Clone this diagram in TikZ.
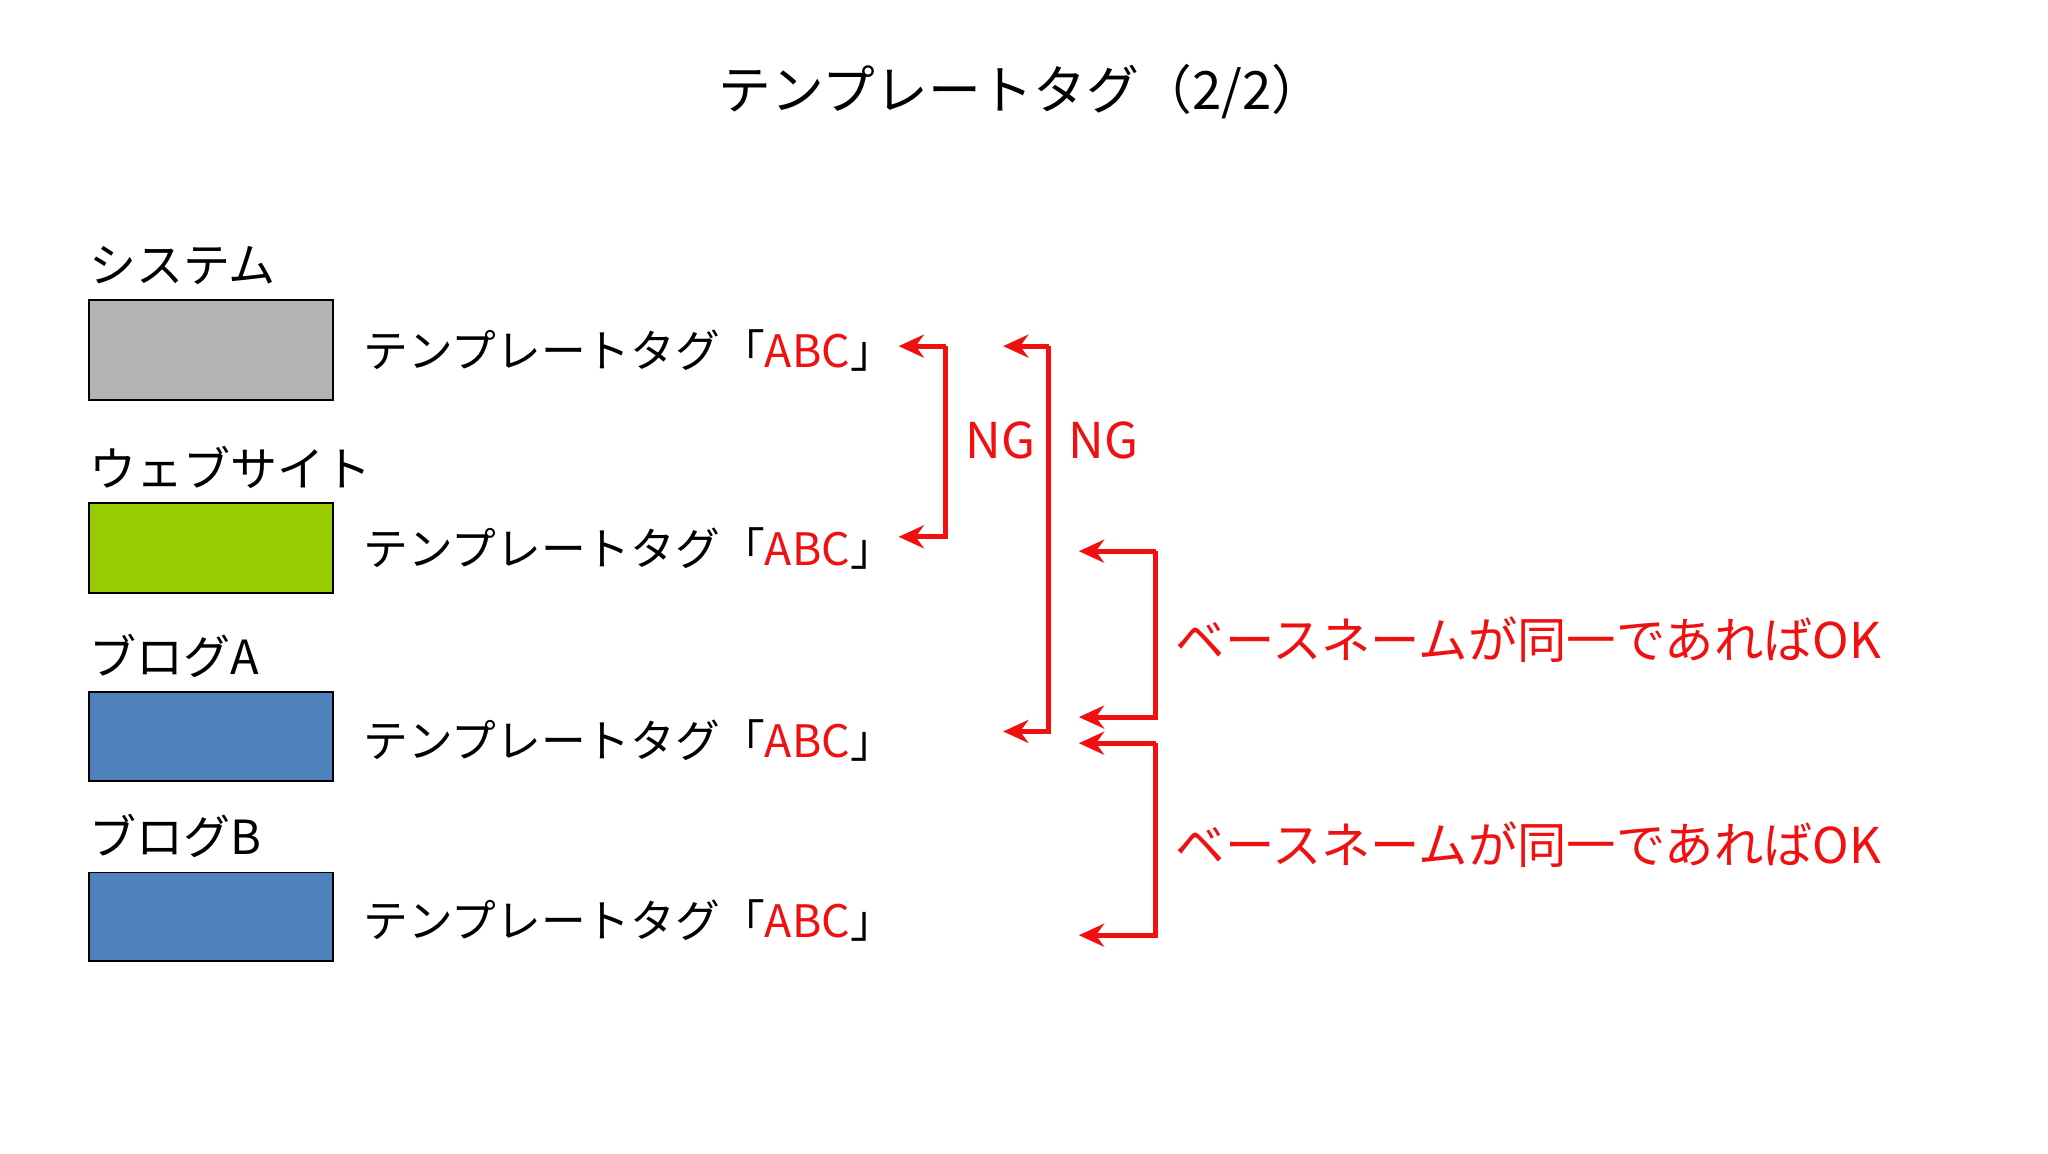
\documentclass[tikz,border=0pt]{standalone}
\usepackage{fontspec}
\setmainfont{Noto Sans CJK JP}
\usetikzlibrary{arrows.meta}
\definecolor{rd}{HTML}{F01010}
\definecolor{gbox}{HTML}{B3B3B3}
\definecolor{grn}{HTML}{99CC00}
\definecolor{blu}{HTML}{4F81BD}
\tikzset{
  lbl/.style={anchor=west,inner sep=0pt,font=\fontsize{20.5}{22}\selectfont},
  tag/.style={anchor=west,inner sep=0pt,font=\fontsize{19.5}{22}\selectfont},
  sw/.style={draw=black,line width=0.8pt},
  brk/.style={draw=rd,line width=2.2pt,-{Stealth[length=11pt,width=10pt]}},
  rtx/.style={anchor=west,inner sep=0pt,text=rd,font=\fontsize{21.5}{24}\selectfont},
}
\begin{document}
\begin{tikzpicture}[x=0.02cm,y=-0.02cm]
\useasboundingbox (0,0) rectangle (1568,883);
\fill[white] (0,0) rectangle (1568,883);
\node[inner sep=0pt,font=\fontsize{23}{26}\selectfont] (title) at (782,70) {テンプレートタグ（2/2）};
\node[lbl] (l1) at (68,203) {システム};
\node[lbl] (l2) at (68,358) {ウェブサイト};
\node[lbl] (l3) at (68,502) {ブログA};
\node[lbl] (l4) at (68,640) {ブログB};
\fill[gbox,sw] (68,230) rectangle (255,306);
\fill[grn,sw] (68,385) rectangle (255,454);
\fill[blu,sw] (68,530) rectangle (255,598);
\fill[blu,sw] (68,668) rectangle (255,736);
\node[tag] (t1) at (278,268) {テンプレートタグ「\textcolor{rd}{ABC}」};
\node[tag] (t2) at (278,420) {テンプレートタグ「\textcolor{rd}{ABC}」};
\node[tag] (t3) at (278,567) {テンプレートタグ「\textcolor{rd}{ABC}」};
\node[tag] (t4) at (278,705) {テンプレートタグ「\textcolor{rd}{ABC}」};
\coordinate (a1) at (688,265); \coordinate (a2) at (688,411);
\coordinate (b1) at (768,265); \coordinate (b2) at (768,560);
\coordinate (c1) at (826,422); \coordinate (c2) at (826,549);
\coordinate (d1) at (826,569); \coordinate (d2) at (826,716);
\draw[brk] (724,265) -- (724,411) -- (a2);
\draw[brk] (724,265) -- (a1);
\draw[brk] (803,265) -- (803,560) -- (b2);
\draw[brk] (803,265) -- (b1);
\draw[brk] (885,422) -- (885,549) -- (c2);
\draw[brk] (885,422) -- (c1);
\draw[brk] (885,569) -- (885,716) -- (d2);
\draw[brk] (885,569) -- (d1);
\node[rtx] (ng1) at (739,337) {NG};
\node[rtx] (ng2) at (818,337) {NG};
\node[rtx] (ok1) at (900,490) {ベースネームが同一であればOK};
\node[rtx] (ok2) at (900,647) {ベースネームが同一であればOK};
\end{tikzpicture}
\end{document}
